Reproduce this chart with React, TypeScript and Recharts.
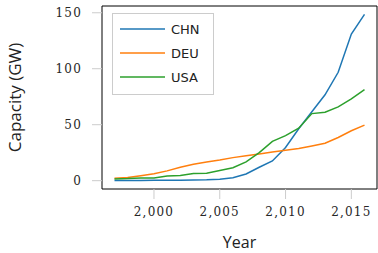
import { LineChart, Line, XAxis, YAxis, Legend, ReferenceArea } from 'recharts';

const years = [1997, 1998, 1999, 2000, 2001, 2002, 2003, 2004, 2005, 2006, 2007, 2008, 2009, 2010, 2011, 2012, 2013, 2014, 2015, 2016];
const chn = [0.17, 0.22, 0.27, 0.34, 0.4, 0.47, 0.57, 0.76, 1.26, 2.6, 6.0, 12.0, 17.6, 29.6, 46.4, 61.6, 76.7, 96.8, 131.0, 148.6];
const deu = [2.08, 2.87, 4.44, 6.1, 8.75, 12.0, 14.6, 16.6, 18.4, 20.6, 22.2, 23.8, 25.7, 27.2, 28.7, 31.0, 33.5, 38.6, 44.6, 49.6];
const usa = [1.61, 1.85, 2.45, 2.38, 4.23, 4.64, 6.35, 6.73, 9.12, 11.6, 16.8, 25.1, 35.1, 40.2, 46.9, 59.9, 61.1, 65.9, 73.0, 81.3];
const xTicks = [2000, 2005, 2010, 2015];
const yTicks = [0, 50, 100, 150];

const colors: Record<string, string> = { CHN: '#1f77b4', DEU: '#ff7f0e', USA: '#2ca02c' };

const data = years.map((year, i) => ({ year, CHN: chn[i], DEU: deu[i], USA: usa[i] }));

const xDomain = [1996.05, 2016.95];
const yDomain = [-7.43, 156.03];

const tickStyle = { fontFamily: 'DejaVu Serif', fontSize: 12, fill: '#262626', letterSpacing: 1.2 };
const titleFont = { fontFamily: 'Open Sans', fontSize: 17, fill: '#222' };

const LegendBox = ({ payload }: any) => (
  <div
    style={{
      border: '1px solid #cccccc',
      background: '#fff',
      width: 102,
      height: 82,
      boxSizing: 'border-box',
      paddingTop: 3,
      fontFamily: 'DejaVu Sans',
      fontSize: 13,
      color: '#222',
    }}
  >
    {(payload || []).map((p: any) => (
      <div key={p.value} style={{ display: 'flex', alignItems: 'center', height: 24 }}>
        <svg width={58} height={24} style={{ display: 'block' }}>
          <line x1={7} x2={52} y1={12} y2={12} stroke={colors[p.value] || p.color} strokeWidth={1.5} />
        </svg>
        <span>{p.value}</span>
      </div>
    ))}
  </div>
);

export default function App() {
  return (
    <div style={{ position: 'absolute', left: 0, top: 0 }}>
      <LineChart width={378} height={253} data={data} margin={{ top: 6, right: 1, bottom: 0, left: 0 }}>
        <XAxis
          dataKey="year"
          type="number"
          domain={xDomain}
          ticks={xTicks}
          allowDataOverflow
          tickFormatter={(v: number) => v.toLocaleString('en-US')}
          axisLine={false}
          tickSize={10}
          tickMargin={8}
          tickLine={{ stroke: '#cccccc' }}
          tick={tickStyle}
          height={64}
          label={{
            content: (props: any) => {
              const vb = props.viewBox || { x: 102, y: 189, width: 275, height: 64 };
              return (
                <text x={vb.x + vb.width / 2} y={vb.y + 59} textAnchor="middle" {...titleFont} fontSize={16}>
                  Year
                </text>
              );
            },
          }}
        />
        <YAxis
          type="number"
          domain={yDomain}
          ticks={yTicks}
          allowDataOverflow
          axisLine={false}
          tickSize={10}
          tickMargin={10}
          tickLine={{ stroke: '#cccccc' }}
          tick={tickStyle}
          width={102}
          label={{
            content: (props: any) => {
              const vb = props.viewBox || { x: 0, y: 6, width: 102, height: 183 };
              const cx = 21;
              const cy = vb.y + vb.height / 2;
              return (
                <text x={cx} y={cy} textAnchor="middle" transform={`rotate(-90 ${cx} ${cy})`} {...titleFont}>
                  Capacity (GW)
                </text>
              );
            },
          }}
        />
        <ReferenceArea x1={xDomain[0]} x2={xDomain[1]} y1={yDomain[0]} y2={yDomain[1]} fill="none" stroke="#000" strokeWidth={1} />
        <Legend
          layout="horizontal"
          verticalAlign="middle"
          align="center"
          content={<LegendBox />}
          wrapperStyle={{ left: 112, top: 13, width: 102, height: 82 }}
        />
        <Line dataKey="CHN" stroke={colors.CHN} strokeWidth={1.5} dot={false} isAnimationActive={false} />
        <Line dataKey="DEU" stroke={colors.DEU} strokeWidth={1.5} dot={false} isAnimationActive={false} />
        <Line dataKey="USA" stroke={colors.USA} strokeWidth={1.5} dot={false} isAnimationActive={false} />
      </LineChart>
    </div>
  );
}
